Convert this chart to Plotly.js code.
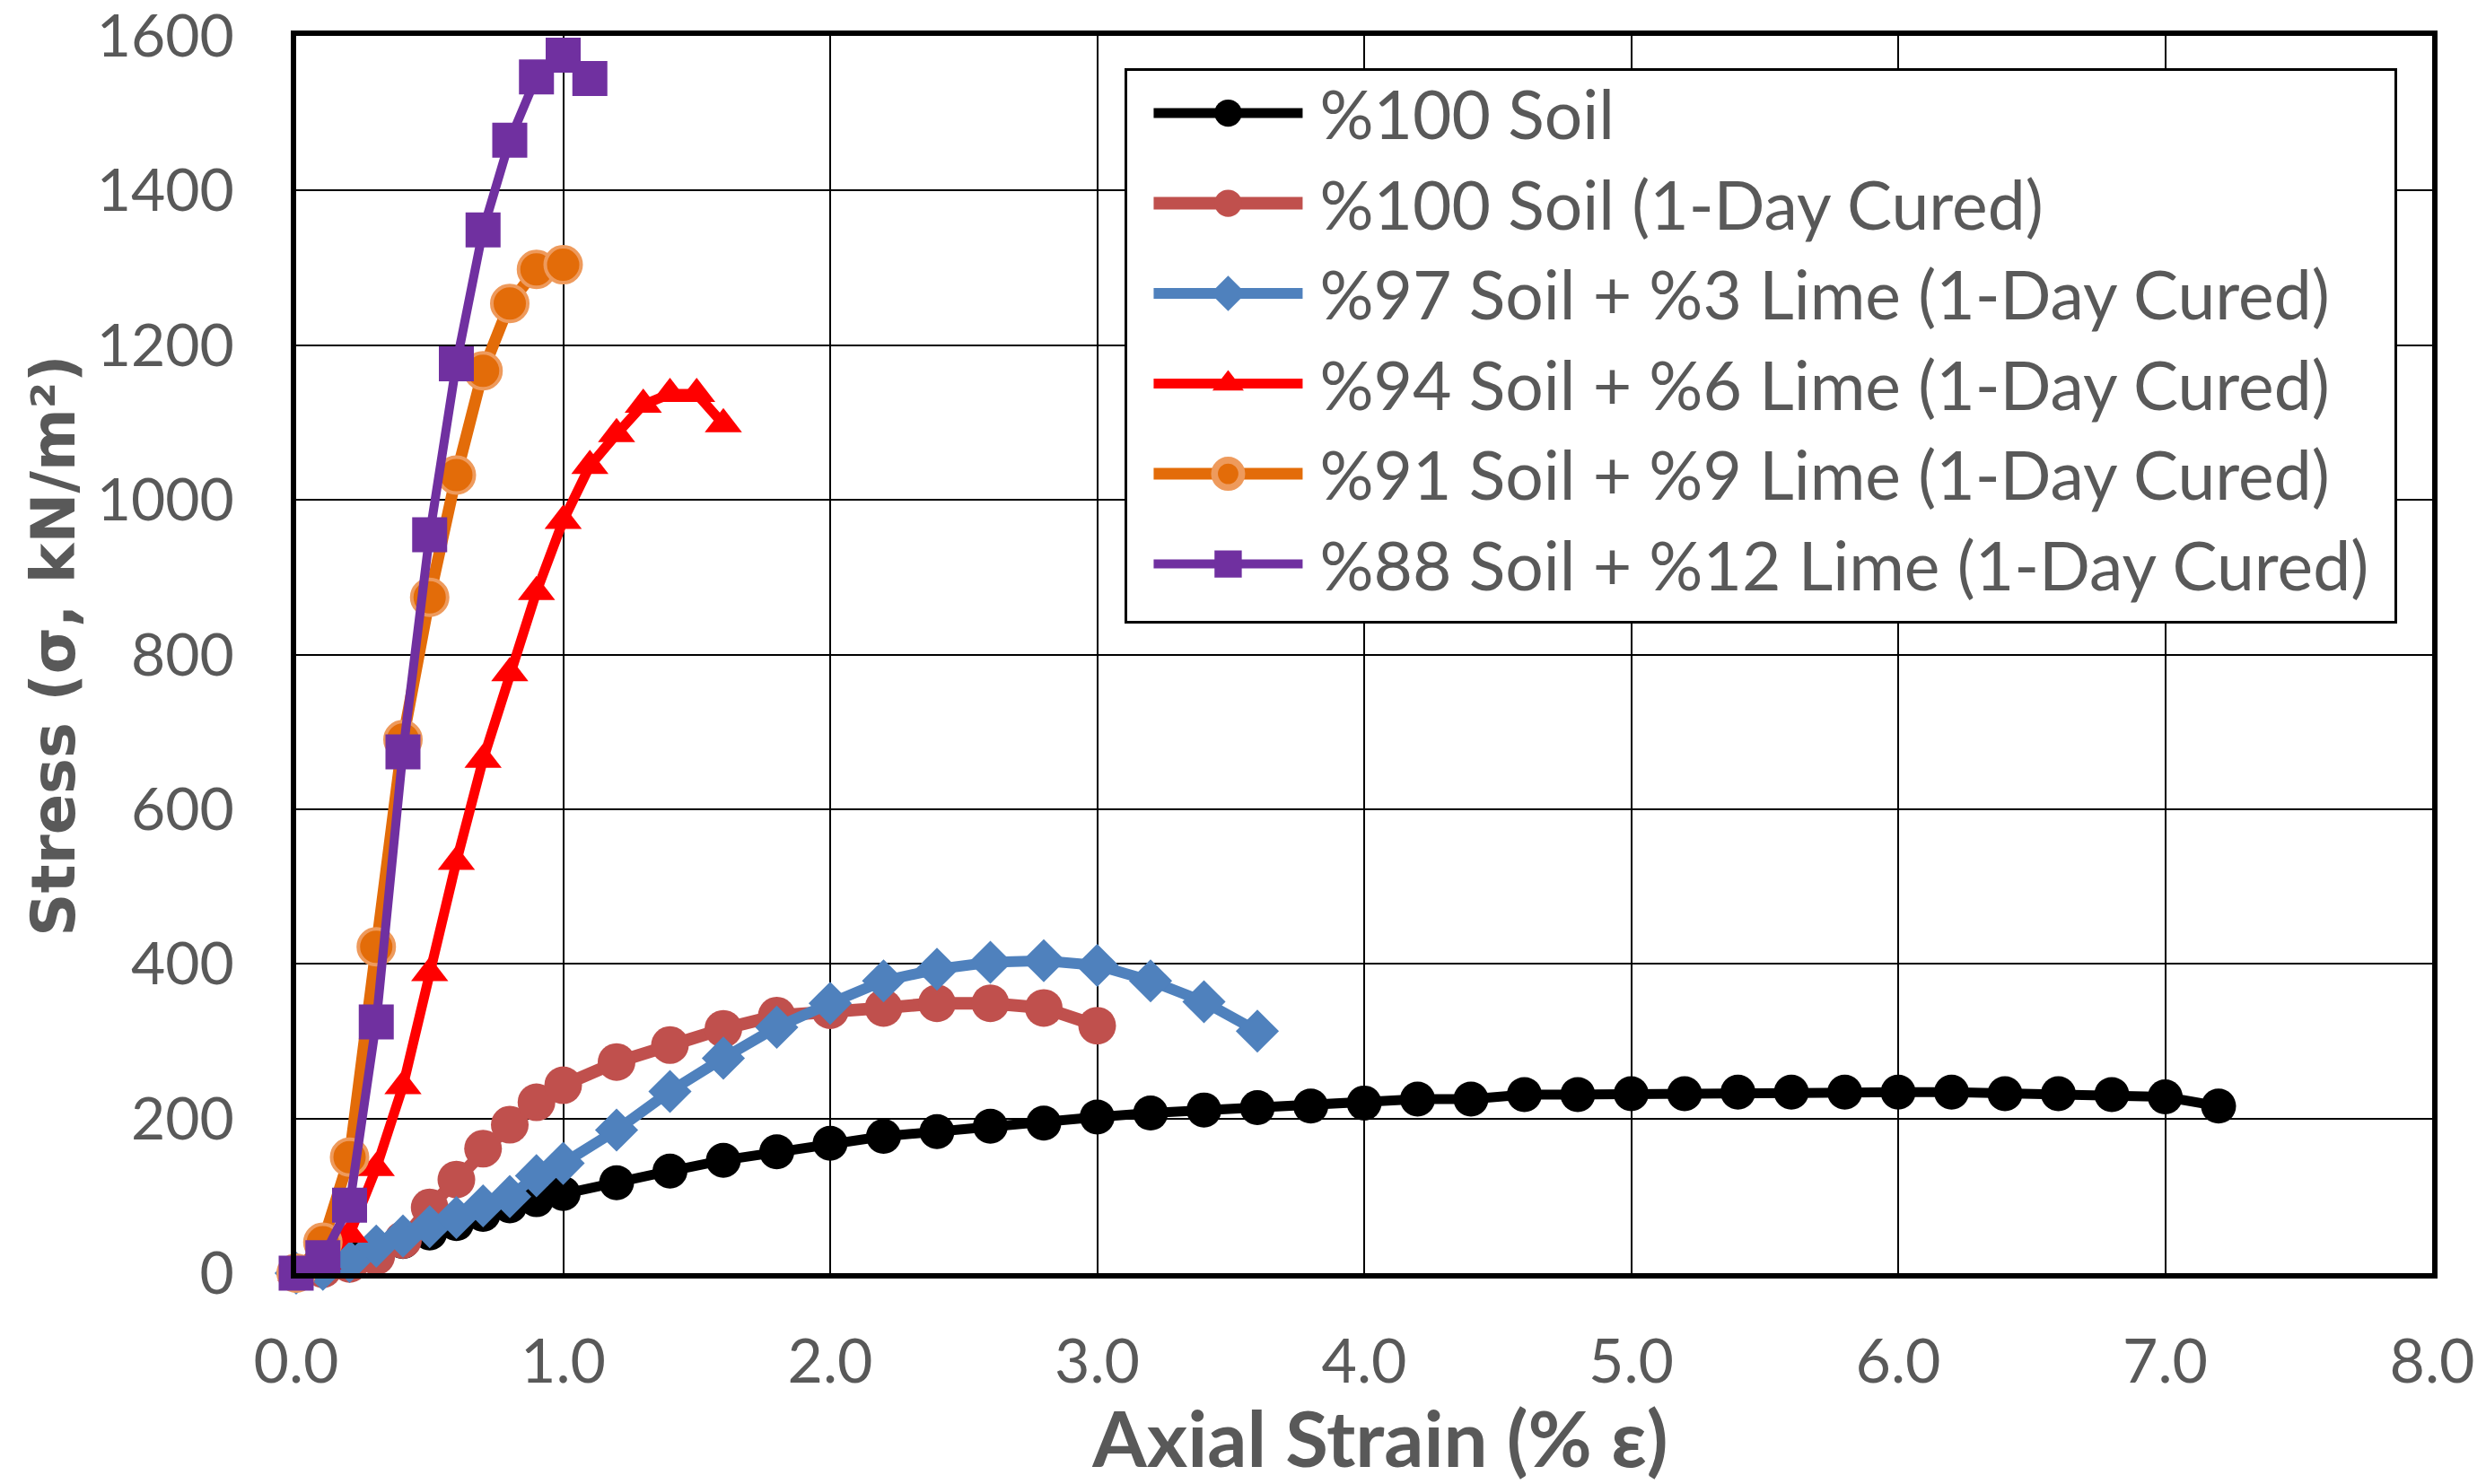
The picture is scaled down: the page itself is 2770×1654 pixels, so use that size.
<!DOCTYPE html>
<html>
<head>
<meta charset="utf-8">
<script src="https://cdn.plot.ly/plotly-3.0.1.min.js"></script>
<style>html,body{margin:0;padding:0;background:#fff;}#chart{width:2770px;height:1654px;}</style>
</head>
<body>
<div id="chart"></div>
<script>
// Series names
const seriesNames = [
  "%100 Soil",
  "%100 Soil (1-Day Cured)",
  "%97 Soil + %3 Lime (1-Day Cured)",
  "%94 Soil + %6 Lime (1-Day Cured)",
  "%91 Soil + %9 Lime (1-Day Cured)",
  "%88 Soil + %12 Lime (1-Day Cured)"
];

// %100 Soil
const soilX = [0.0,0.1,0.2,0.3,0.4,0.5,0.6,0.7,0.8,0.9,1.0,1.2,1.4,1.6,1.8,2.0,2.2,2.4,2.6,2.8,3.0,3.2,3.4,3.6,3.8,4.0,4.2,4.4,4.6,4.8,5.0,5.2,5.4,5.6,5.8,6.0,6.2,6.4,6.6,6.8,7.0,7.2];
const soilY = [0,8,20,30,41,52,64,76,87,95,103,117,132,146,157,168,177,183,190,194,202,207,211,214,216,220,225,225,231,231,232,232,234,234,234,234,234,232,232,231,228,216];

// %100 Soil (1-Day Cured)
const curedX = [0.0,0.1,0.2,0.3,0.4,0.5,0.6,0.7,0.8,0.9,1.0,1.2,1.4,1.6,1.8,2.0,2.2,2.4,2.6,2.8,3.0];
const curedY = [0,5,12,22,43,85,121,161,192,221,243,273,295,316,333,340,343,349,349,343,320];

// %97 Soil + %3 Lime
const lime3X = [0.0,0.1,0.2,0.3,0.4,0.5,0.6,0.7,0.8,0.9,1.0,1.2,1.4,1.6,1.8,2.0,2.2,2.4,2.6,2.8,3.0,3.2,3.4,3.6];
const lime3Y = [0,5,15,35,48,60,72,87,99,126,142,185,235,278,318,349,378,393,402,404,398,378,351,313];

// %94 Soil + %6 Lime
const lime6X = [0.0,0.1,0.2,0.3,0.4,0.5,0.6,0.7,0.8,0.9,1.0,1.1,1.2,1.3,1.4,1.5,1.6];
const lime6Y = [0,15,50,136,242,388,532,664,776,881,973,1044,1085,1123,1137,1137,1098];

// %91 Soil + %9 Lime
const lime9X = [0.0,0.1,0.2,0.3,0.4,0.5,0.6,0.7,0.8,0.9,1.0];
const lime9Y = [0,40,150,422,690,874,1032,1167,1254,1298,1304];

// %88 Soil + %12 Lime
const lime12X = [0.0,0.1,0.2,0.3,0.4,0.5,0.6,0.7,0.8,0.9,1.0,1.1];
const lime12Y = [0,20,88,325,674,955,1176,1349,1465,1547,1575,1545];

const xTickVals = [0,1,2,3,4,5,6,7,8];
const xTickText = ["0.0","1.0","2.0","3.0","4.0","5.0","6.0","7.0","8.0"];
const yTickVals = [0,200,400,600,800,1000,1200,1400,1600];

const styles = [
  {color:"#000000", lw:11, sym:"circle", size:39, mline:"#000000", mlw:0},
  {color:"#C0504D", lw:14, sym:"circle", size:42, mline:"#C0504D", mlw:0},
  {color:"#4F81BD", lw:12, sym:"diamond", size:37, mline:"#4F81BD", mlw:0},
  {color:"#FF0000", lw:11, sym:"triangle-up", size:36, mline:"#FF0000", mlw:0},
  {color:"#E36C09", lw:13, sym:"circle", size:40, mline:"#EE9A5C", mlw:4},
  {color:"#7030A0", lw:10, sym:"square", size:39, mline:"#7030A0", mlw:0}
];
const xs = [soilX, curedX, lime3X, lime6X, lime9X, lime12X];
const ys = [soilY, curedY, lime3Y, lime6Y, lime9Y, lime12Y];

const traces = xs.map((x, i) => ({
  type: "scatter",
  mode: "lines+markers",
  name: seriesNames[i],
  legendgroup: "g" + i,
  x: x,
  y: ys[i],
  cliponaxis: false,
  line: {color: styles[i].color, width: styles[i].lw},
  marker: {symbol: styles[i].sym, size: styles[i].size, color: styles[i].color,
           line: {color: styles[i].mline, width: styles[i].mlw}}
}));

const fam = "Lato, 'Open Sans', sans-serif";

const layout = {
  width: 2770, height: 1654,
  margin: {l: 330, r: 60, t: 40, b: 235},
  paper_bgcolor: "#ffffff",
  plot_bgcolor: "#ffffff",
  showlegend: true,
  xaxis: {
    range: [0, 8],
    tickvals: xTickVals, ticktext: xTickText,
    tickfont: {family: fam, size: 68, color: "#595959"},
    ticks: "", ticklabelstandoff: 34, ticklabeloverflow: "allow",
    showgrid: true, gridcolor: "#000000", gridwidth: 2,
    zeroline: false,
    showline: true, linecolor: "#000000", linewidth: 6, mirror: true,
    title: {text: "Axial Strain (% ε)", font: {family: fam, size: 87, color: "#595959", weight: "bold"}, standoff: 48}
  },
  yaxis: {
    range: [0, 1600],
    tickvals: yTickVals,
    tickfont: {family: fam, size: 66, color: "#595959"},
    ticks: "", ticklabelstandoff: 50, ticklabeloverflow: "allow",
    showgrid: true, gridcolor: "#000000", gridwidth: 2,
    zeroline: false,
    showline: true, linecolor: "#000000", linewidth: 6, mirror: true,
    title: {text: "Stress (σ, kN/m²)", font: {family: "'DejaVu Sans', Verdana, sans-serif", size: 67, color: "#595959", weight: "bold"}, standoff: 4}
  },
  legend: {
    x: 0.388, y: 0.974, xanchor: "left", yanchor: "top",
    bgcolor: "#ffffff", bordercolor: "#000000", borderwidth: 3,
    font: {family: fam, size: 75, color: "#595959"},
    itemwidth: 166,
    tracegroupgap: 6,
    traceorder: "normal"
  }
};

const EXTRA = 62;
const gd = document.getElementById("chart");
Plotly.newPlot(gd, traces, layout, {displayModeBar: false, staticPlot: true}).then(() => {
  // enlarge legend symbols to match the chart markers and lines
  const groups = gd.querySelectorAll(".legend .traces");
  groups.forEach((g, i) => {
    g.querySelectorAll(".legendpoints path.scatterpts").forEach(p => {
      const t = p.getAttribute("transform") || "";
      p.setAttribute("transform", t + " scale(1.9)");
    });
    g.querySelectorAll(".legendlines path").forEach(l => {
      l.style.strokeWidth = styles[i].lw + "px";
    });
    const layers = g.querySelector(".layers");
    if (layers) layers.setAttribute("transform", "translate(24,-8)");
    const txt = g.querySelector("text.legendtext");
    if (txt) {
      const x0 = parseFloat(txt.getAttribute("x") || "0");
      txt.setAttribute("x", x0 + 38);
      txt.setAttribute("transform", "translate(0,-8)");
    }
  });
  const bg = gd.querySelector(".legend rect.bg");
  if (bg) bg.setAttribute("width", parseFloat(bg.getAttribute("width")) + EXTRA);
  document.querySelectorAll("clipPath").forEach(cp => {
    if (cp.id && cp.id.indexOf("legend") === 0) {
      cp.querySelectorAll("rect").forEach(r => {
        r.setAttribute("width", parseFloat(r.getAttribute("width") || "0") + EXTRA);
      });
    }
  });
  const xt = gd.querySelector(".xtitle");
  if (xt) xt.setAttribute("transform", "translate(18,0)");
  const yt = gd.querySelector(".ytitle");
  if (yt) yt.setAttribute("transform", "translate(0,-10) " + (yt.getAttribute("transform") || ""));
});
</script>
</body>
</html>
